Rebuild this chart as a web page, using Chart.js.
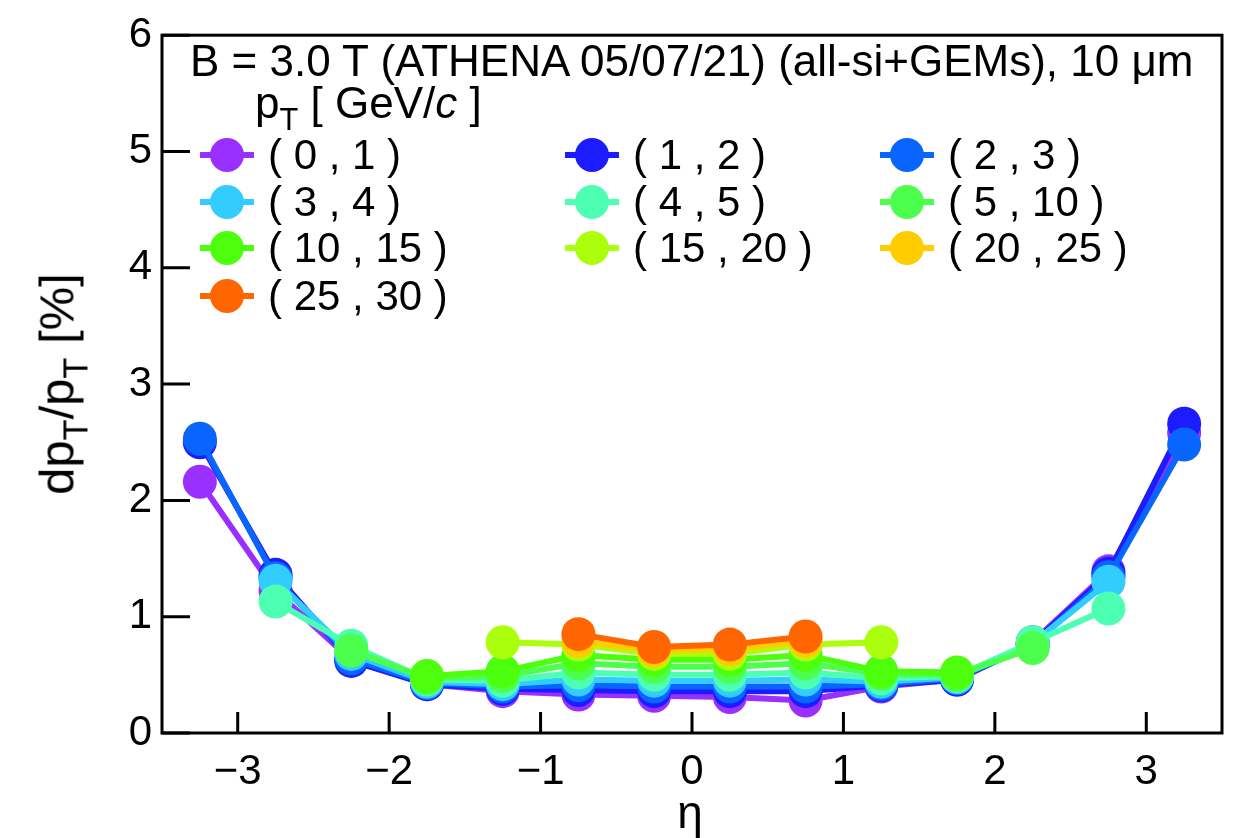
<!DOCTYPE html>
<html>
<head>
<meta charset="UTF-8">
<title>dpT/pT vs eta</title>
<script src="https://cdn.jsdelivr.net/npm/chart.js"></script>
<style>
  body { margin: 0; background: #fff; font-family: 'Liberation Sans', Arial, sans-serif; }
  #wrap { position: relative; width: 1239px; height: 838px; }
  canvas { position: absolute; left: 0; top: 0; }
  .txt { position: absolute; color: #000; white-space: nowrap; line-height: 1; }
  .hdr { font-size: 44px; }
  .leg { font-size: 42px; }
  .mk { position: absolute; }
  .mk .ln { position: absolute; left: 0; top: -3px; width: 54px; height: 6px; }
  .mk .dot { position: absolute; left: 10px; top: -17px; width: 34px; height: 34px; border-radius: 50%; }
  sub { font-size: 0.7em; vertical-align: -0.4em; line-height: 0; }
</style>
</head>
<body>
<div id="wrap">
  <canvas id="c" width="1239" height="838"></canvas>
  <div class="txt hdr" style="left:190px; top:39px;">B = 3.0 T (ATHENA 05/07/21) (all-si+GEMs), 10 &mu;m</div>
  <div class="txt hdr" style="left:255px; top:81px;">p<sub>T</sub> [ GeV/<i>c</i> ]</div>
  <div id="legend"></div>
  <div class="txt" style="left:57px; top:384px; font-size:49px; transform:translate(-50%,-50%) rotate(-90deg);">dp<sub>T</sub>/p<sub>T</sub> [%]</div>
  <div class="txt" style="left:690px; top:812px; font-size:46px; transform:translate(-50%,-50%);">&eta;</div>
</div>
<script>
const eta = [-3.25, -2.75, -2.25, -1.75, -1.25, -0.75, -0.25, 0.25, 0.75, 1.25, 1.75, 2.25, 2.75, 3.25];

const ptBins = ['( 0 , 1 )', '( 1 , 2 )', '( 2 , 3 )', '( 3 , 4 )', '( 4 , 5 )',
                '( 5 , 10 )', '( 10 , 15 )', '( 15 , 20 )', '( 20 , 25 )', '( 25 , 30 )'];
const colors = ['#9930ff', '#1c1cff', '#0866ff', '#33ccff', '#4dffb3',
                '#4dff4d', '#4dff0d', '#acff0c', '#ffcc00', '#ff6600'];

const pt0_1   = [2.16, 1.22, 0.63, 0.42, 0.36, 0.33, 0.32, 0.31, 0.28, 0.40, 0.46, 0.78, 1.39, 2.58];
const pt1_2   = [2.50, 1.36, 0.62, 0.42, 0.38, 0.37, 0.36, 0.36, 0.36, 0.41, 0.46, 0.77, 1.37, 2.66];
const pt2_3   = [2.53, 1.33, 0.64, 0.43, 0.40, 0.41, 0.40, 0.40, 0.40, 0.42, 0.47, 0.76, 1.34, 2.48];
const pt3_4   = [null, 1.31, 0.68, 0.44, 0.42, 0.46, 0.45, 0.45, 0.46, 0.44, 0.48, 0.77, 1.30, null];
const pt4_5   = [null, 1.13, 0.75, 0.46, 0.45, 0.52, 0.50, 0.50, 0.52, 0.47, 0.49, 0.78, 1.07, null];
const pt5_10  = [null, null, 0.71, 0.47, 0.49, 0.60, 0.57, 0.57, 0.60, 0.51, 0.50, 0.73, null, null];
const pt10_15 = [null, null, null, 0.49, 0.53, 0.67, 0.63, 0.63, 0.67, 0.53, 0.52, null, null, null];
const pt15_20 = [null, null, null, null, 0.78, 0.76, 0.68, 0.68, 0.76, 0.78, null, null, null, null];
const pt20_25 = [null, null, null, null, null, 0.79, 0.71, 0.72, 0.79, null, null, null, null, null];
const pt25_30 = [null, null, null, null, null, 0.85, 0.74, 0.76, 0.83, null, null, null, null, null];

const series = [pt0_1, pt1_2, pt2_3, pt3_4, pt4_5, pt5_10, pt10_15, pt15_20, pt20_25, pt25_30];

const yTicks = [0, 1, 2, 3, 4, 5, 6];
const xTicks = [-3, -2, -1, 0, 1, 2, 3];

const fmt = v => (v < 0 ? '\u2212' + Math.abs(v) : String(v));

// ROOT style: later graphs on top, so give them a lower draw order
const datasets = series.map((vals, i) => ({
  label: ptBins[i],
  data: eta.map((x, j) => ({ x: x, y: vals[j] })).filter(p => p.y !== null),
  borderColor: colors[i],
  backgroundColor: colors[i],
  pointBackgroundColor: colors[i],
  pointBorderWidth: 0,
  pointRadius: 17,
  borderWidth: 6,
  order: series.length - i,
  fill: false
}));

// legend (3 columns, ROOT TLegend look)
const legCols = [200, 565, 880];
const legRows = [155, 202, 248, 296];
const legend = document.getElementById('legend');
ptBins.forEach((lab, i) => {
  const cx = legCols[i % 3], cy = legRows[Math.floor(i / 3)];
  const mk = document.createElement('div');
  mk.className = 'mk';
  mk.style.left = cx + 'px';
  mk.style.top = cy + 'px';
  mk.innerHTML = '<div class="ln" style="background:' + colors[i] + '"></div><div class="dot" style="background:' + colors[i] + '"></div>';
  legend.appendChild(mk);
  const t = document.createElement('div');
  t.className = 'txt leg';
  t.style.left = (cx + 68) + 'px';
  t.style.top = (cy - 21) + 'px';
  t.textContent = lab;
  legend.appendChild(t);
});

// frame + inward ticks
const frame = {
  id: 'frame',
  afterDraw(chart) {
    const { ctx, chartArea: a, scales } = chart;
    ctx.save();
    ctx.strokeStyle = '#000';
    ctx.lineWidth = 3;
    ctx.strokeRect(a.left, a.top, a.right - a.left, a.bottom - a.top);
    ctx.beginPath();
    xTicks.forEach(v => {
      const px = scales.x.getPixelForValue(v);
      ctx.moveTo(px, a.bottom);
      ctx.lineTo(px, a.bottom - 21);
    });
    yTicks.forEach(v => {
      const py = scales.y.getPixelForValue(v);
      ctx.moveTo(a.left, py);
      ctx.lineTo(a.left + 28, py);
    });
    ctx.stroke();
    ctx.restore();
  }
};

new Chart(document.getElementById('c').getContext('2d'), {
  type: 'line',
  data: { datasets: datasets },
  options: {
    responsive: false,
    animation: false,
    layout: { padding: { left: 0, top: 23, right: 13, bottom: 0 } },
    scales: {
      x: {
        type: 'linear', min: -3.5, max: 3.5,
        afterBuildTicks: s => { s.ticks = xTicks.map(v => ({ value: v })); },
        afterFit: s => { s.height = 105; },
        grid: { display: false, drawTicks: false },
        border: { display: false },
        ticks: { color: '#000', padding: 14, font: { family: 'Liberation Sans', size: 42 }, callback: v => fmt(v), maxRotation: 0 }
      },
      y: {
        min: 0, max: 6,
        afterBuildTicks: s => { s.ticks = yTicks.map(v => ({ value: v })); },
        afterFit: s => { s.width = 162; },
        grid: { display: false, drawTicks: false },
        border: { display: false },
        ticks: { color: '#000', padding: 10, font: { family: 'Liberation Sans', size: 42 }, callback: v => fmt(v) }
      }
    },
    plugins: { legend: { display: false }, tooltip: { enabled: false } }
  },
  plugins: [frame]
});
</script>
</body>
</html>
